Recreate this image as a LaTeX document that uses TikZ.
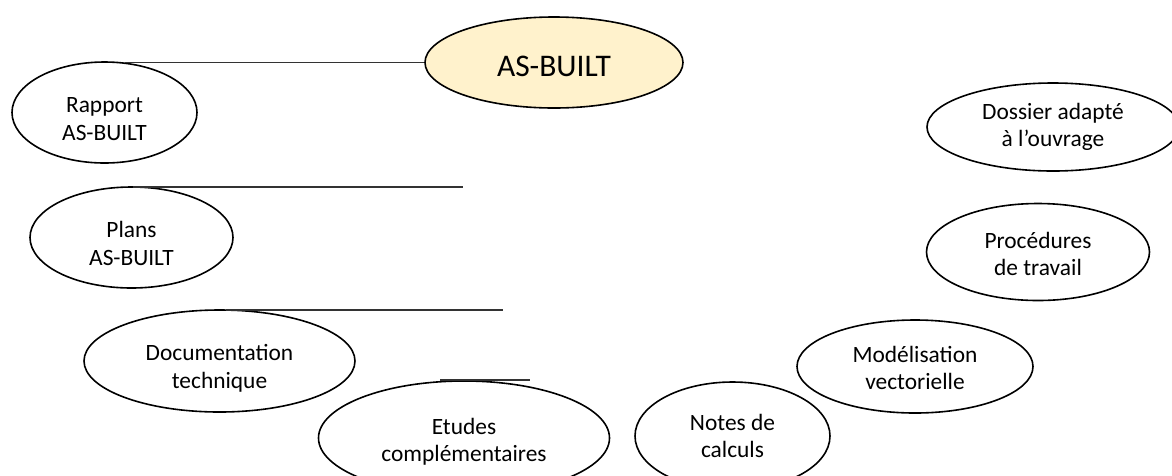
\documentclass[tikz,border=0pt]{standalone}
\usepackage{fontspec}
\setmainfont{Carlito}
\usetikzlibrary{shapes.geometric}
\definecolor{mainfill}{RGB}{255,242,204}
\begin{document}
\begin{tikzpicture}[x=1pt,y=-1pt,
  el/.style={ellipse,draw=black,line width=1.6pt,inner sep=0pt},
  lbl/.style={align=center,inner sep=0pt,font=\fontsize{23.4}{27.5}\selectfont},
  conn/.style={draw=black!80,line width=1.1pt}]
\useasboundingbox (0,0) rectangle (1172,475);
\begin{scope}
\clip (0,0) rectangle (1172,475);
\node[el,fill=mainfill,minimum width=258,minimum height=91] (main) at (554,62.5) {};
\node[el,minimum width=185,minimum height=101] (rap) at (104.5,112.5) {};
\node[el,minimum width=203,minimum height=101] (plans) at (131.5,237.5) {};
\node[el,minimum width=271,minimum height=102] (doc) at (219.5,361) {};
\node[el,minimum width=291,minimum height=114] (etu) at (464,438) {};
\node[el,minimum width=195,minimum height=108] (notes) at (732.5,436) {};
\node[el,minimum width=236,minimum height=93] (mod) at (915,366.5) {};
\node[el,minimum width=223,minimum height=97] (proc) at (1038,252) {};
\node[el,minimum width=252,minimum height=88] (dos) at (1053,127) {};
\end{scope}
\node[lbl,font=\fontsize{31.5}{36}\selectfont] (mainT) at ([yshift=-4pt]main.center) {AS-BUILT};
\node[lbl] (rapT) at ([yshift=-6.5pt]rap.center) {Rapport\\AS-BUILT};
\node[lbl] (plansT) at ([yshift=-6pt]plans.center) {Plans\\AS-BUILT};
\node[lbl] (docT) at ([yshift=-7.5pt]doc.center) {Documentation\\technique};
\node[lbl] (etuT) at ([yshift=-4pt]etu.center) {Etudes\\complémentaires};
\node[lbl] (notesT) at (notes.center) {Notes de\\calculs};
\node[lbl] (modT) at ([yshift=-1.5pt]mod.center) {Modélisation\\vectorielle};
\node[lbl] (procT) at ([yshift=-2pt]proc.center) {Procédures\\de travail};
\node[lbl] (dosT) at (dos.center) {Dossier adapté\\à l’ouvrage};
\coordinate (a1) at (125,62.5);
\coordinate (a2) at (133,187);
\coordinate (b2) at (463,187);
\coordinate (a3) at (226,310);
\coordinate (b3) at (503,310);
\coordinate (a4) at (440,380);
\coordinate (b4) at (530,380);
\draw[conn] (a1) -- (main.west);
\draw[conn] (a2) -- (b2);
\draw[conn] (a3) -- (b3);
\draw[conn] (a4) -- (b4);
\end{tikzpicture}
\end{document}
